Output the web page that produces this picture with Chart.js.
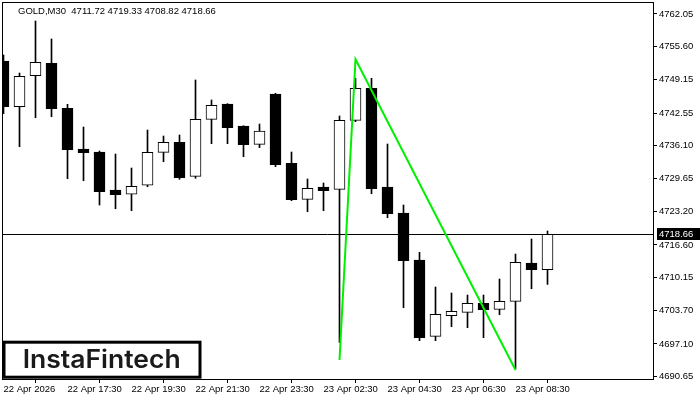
<!DOCTYPE html>
<html>
<head>
<meta charset="utf-8">
<script src="https://cdn.jsdelivr.net/npm/chart.js@4.4.1/dist/chart.umd.min.js"></script>
<style>
  html, body { margin: 0; padding: 0; background: #fff; }
  canvas { display: block; }
</style>
</head>
<body>
<canvas id="chart" width="700" height="400"></canvas>
<script>
// GOLD M30 candles (oldest first)
const symbol = 'GOLD,M30';
const opens  = [4752.80, 4743.80, 4749.90, 4752.34, 4743.48, 4735.47, 4734.88, 4727.40, 4726.56, 4728.33,
                4734.82, 4736.79, 4730.10, 4741.32, 4744.33, 4740.00, 4736.40, 4746.30, 4732.66, 4725.57,
                4727.99, 4727.54, 4741.12, 4747.42, 4727.99, 4722.87, 4713.62, 4698.60, 4702.66, 4703.33,
                4705.10, 4703.92, 4705.49, 4713.03, 4711.72];
const highs  = [4753.98, 4750.43, 4760.67, 4757.13, 4744.27, 4739.80, 4735.08, 4734.49, 4731.73, 4739.21,
                4738.03, 4738.23, 4749.06, 4745.12, 4744.40, 4740.05, 4740.39, 4746.44, 4734.88, 4729.57,
                4728.78, 4741.97, 4749.39, 4749.39, 4736.46, 4724.45, 4715.14, 4708.31, 4707.13, 4706.73,
                4706.73, 4709.88, 4714.80, 4717.76, 4719.33];
const lows   = [4742.42, 4735.93, 4741.63, 4741.83, 4729.63, 4729.23, 4724.45, 4723.72, 4723.33, 4728.05,
                4732.97, 4729.51, 4729.71, 4736.52, 4736.52, 4733.96, 4735.73, 4731.99, 4725.30, 4723.13,
                4723.33, 4697.38, 4740.85, 4726.67, 4721.95, 4704.23, 4697.74, 4697.74, 4700.49, 4700.30,
                4698.33, 4702.85, 4692.17, 4707.97, 4708.82];
const closes = [4743.80, 4749.78, 4752.54, 4743.41, 4735.34, 4734.74, 4727.07, 4726.48, 4728.13, 4734.82,
                4736.79, 4729.82, 4741.32, 4744.08, 4739.67, 4736.32, 4739.02, 4732.38, 4725.49, 4727.74,
                4727.26, 4741.12, 4747.42, 4727.66, 4722.74, 4713.48, 4698.33, 4702.93, 4703.52, 4705.10,
                4703.84, 4705.49, 4713.17, 4711.71, 4718.66];

// axis ticks
const yTicks = [4762.05, 4755.60, 4749.15, 4742.55, 4736.10, 4729.65, 4723.20, 4716.60, 4710.15, 4703.70, 4697.10, 4690.65];
const xTickIdx = [0, 4, 8, 12, 16, 20, 24, 28, 32];
const xTickLabels = ['22 Apr 2026', '22 Apr 17:30', '22 Apr 19:30', '22 Apr 21:30', '22 Apr 23:30',
                     '23 Apr 02:30', '23 Apr 04:30', '23 Apr 06:30', '23 Apr 08:30'];

// green pattern lines (bar index, price)
const patternIdx = [21, 22, 32];
const patternPrice = [4693.94, 4753.13, 4691.97];

const FONT = "'Liberation Sans', Arial, sans-serif";

let idx = opens.map((o, i) => i);
let wicks = idx.map(i => ({ x: i, y: [lows[i], highs[i]] }));
let bodies = idx.map(i => ({ x: i, y: [opens[i], closes[i]] }));
let bodyColors = idx.map(i => closes[i] >= opens[i] ? '#ffffff' : '#000000');
let pattern = patternIdx.map((x, i) => ({ x: x, y: patternPrice[i] }));
let last = closes.length - 1;

function fmt(v) { return v.toFixed(2); }

// no extra label padding, the chart area is set by hand
function noPad(s) {
  s.paddingTop = 0;
  s.paddingBottom = 0;
  s.paddingLeft = 0;
  s.paddingRight = 0;
}

// frame, header, price line/label and logo
const decor = {
  id: 'decor',
  beforeDatasetsDraw(chart) {
    let ctx = chart.ctx, a = chart.chartArea;
    let y = Math.floor(chart.scales.y.getPixelForValue(closes[last])) + 0.5;
    ctx.save();
    ctx.strokeStyle = '#000';
    ctx.lineWidth = 1;
    ctx.beginPath();
    ctx.moveTo(a.left, y);
    ctx.lineTo(a.right, y);
    ctx.stroke();
    ctx.restore();
  },
  afterDraw(chart) {
    let ctx = chart.ctx, a = chart.chartArea;
    ctx.save();

    // frame
    ctx.strokeStyle = '#000';
    ctx.lineWidth = 1;
    ctx.strokeRect(a.left + 0.5, a.top + 0.5, a.right - a.left, a.bottom - a.top);

    // header
    ctx.fillStyle = '#000';
    ctx.font = '9.5px ' + FONT;
    ctx.textBaseline = 'alphabetic';
    ctx.textAlign = 'left';
    ctx.fillText(symbol + '  ' + [opens[last], highs[last], lows[last], closes[last]].map(fmt).join(' '), 18, 14);

    // current price label
    let y = Math.floor(chart.scales.y.getPixelForValue(closes[last])) + 0.5;
    ctx.fillStyle = '#000';
    ctx.fillRect(657, Math.round(y - 6.5), 43, 12);
    ctx.fillStyle = '#fff';
    ctx.textBaseline = 'middle';
    ctx.fillText(fmt(closes[last]), 659, y);

    // logo
    ctx.fillStyle = '#fff';
    ctx.fillRect(4, 342, 196, 35.5);
    ctx.strokeStyle = '#000';
    ctx.lineWidth = 3;
    ctx.strokeRect(4, 342.2, 196, 35);
    ctx.fillStyle = '#1a1a1a';
    ctx.font = '600 25px Inter, Lato, sans-serif';
    ctx.textBaseline = 'alphabetic';
    ctx.textAlign = 'left';
    let txt = 'InstaFintech';
    let w = ctx.measureText(txt).width;
    ctx.translate(22.7, 368.3);
    ctx.scale(158 / w, 1);
    ctx.fillText(txt, 0, 0);
    ctx.restore();
  }
};

let ctx = document.getElementById('chart').getContext('2d');
let chart = new Chart(ctx, {
  type: 'bar',
  data: {
    datasets: [{
      type: 'line',
      data: pattern,
      borderColor: '#00f000',
      borderWidth: 2,
      pointRadius: 0,
      fill: false,
      tension: 0,
      order: 0
    }, {
      data: bodies,
      backgroundColor: bodyColors,
      borderColor: '#000',
      borderWidth: 1,
      borderSkipped: false,
      barThickness: 11,
      grouped: false,
      order: 1
    }, {
      data: wicks,
      backgroundColor: '#000',
      borderWidth: 0,
      barThickness: 1,
      grouped: false,
      order: 2
    }]
  },
  options: {
    responsive: false,
    devicePixelRatio: 1,
    animation: false,
    events: [],
    layout: { padding: { left: 2, top: 2, right: 0, bottom: 0 } },
    plugins: {
      legend: { display: false },
      tooltip: { enabled: false },
      title: { display: false }
    },
    scales: {
      x: {
        type: 'linear',
        min: -0.09375,
        max: 40.59375,
        offset: false,
        grid: { drawOnChartArea: false, drawTicks: true, tickLength: 4, color: '#000' },
        border: { display: false },
        ticks: {
          autoSkip: false,
          maxRotation: 0,
          align: 'start',
          padding: 1,
          color: '#000',
          font: { family: FONT, size: 9.5 },
          callback: (v, i) => xTickLabels[i]
        },
        afterBuildTicks: s => { s.ticks = xTickIdx.map(v => ({ value: v })); },
        afterFit: s => { s.height = 21; noPad(s); }
      },
      y: {
        type: 'linear',
        position: 'right',
        min: 4690.20,
        max: 4764.41,
        grid: { drawOnChartArea: false, drawTicks: true, tickLength: 4, color: '#000' },
        border: { display: false },
        ticks: {
          autoSkip: false,
          padding: 2,
          color: '#000',
          font: { family: FONT, size: 9.5 },
          callback: v => fmt(v)
        },
        afterBuildTicks: s => { s.ticks = yTicks.map(v => ({ value: v })); },
        afterFit: s => { s.width = 47; noPad(s); }
      }
    }
  },
  plugins: [decor]
});
</script>
</body>
</html>
